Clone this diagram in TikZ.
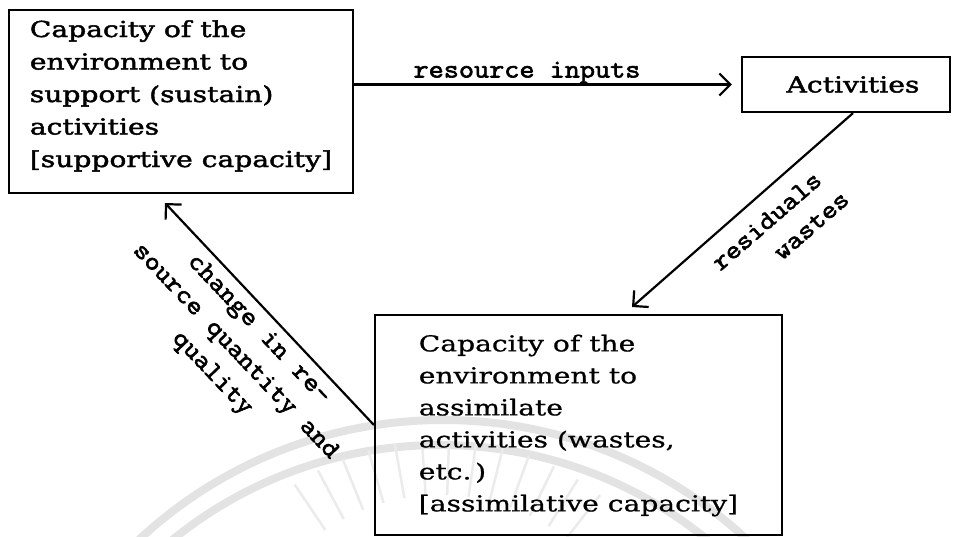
\documentclass[tikz,border=0pt]{standalone}
\usepackage{fontspec}
\setmainfont{DejaVu Serif}
\newfontfamily\boxfont[FakeStretch=1.28,FakeBold=0.8]{DejaVu Serif}
\newfontfamily\boxboldfont[FakeStretch=1.28,FakeBold=2]{DejaVu Serif}
\newfontfamily\typefont[FakeStretch=1.13,FakeBold=2.5]{Latin Modern Mono}
\usetikzlibrary{arrows.meta,calc}

% a left-aligned block of lines, lifted without changing its size
\newcommand{\liftedlines}[2]{\raisebox{#1}[\height][\depth]{\begin{tabular}{@{}l@{}}#2\end{tabular}}}

\begin{document}
\begin{tikzpicture}[x=1pt,y=-1pt,
  frame/.style={draw, line width=2.2pt, inner sep=0pt},
  flow/.style={line width=2.2pt, -{Straight Barb[length=11pt,width=22pt]}},
  tw/.style={font=\typefont\fontsize{26}{32}\selectfont, inner sep=0pt},
  wmark/.style={gray!22, line width=8pt},
  wray/.style={gray!16, line width=2.5pt}]
\useasboundingbox (0,0) rectangle (963,536);

% faint seal behind the lower box
\begin{scope}
  \clip (0,0) rectangle (963,536);
  \draw[wmark] (443,866) circle[radius=446];
  \draw[wmark] (440,870) circle[radius=425];
  \foreach \a in {-124,-118,...,-50}
    \draw[wray] ($(440,700)+(\a:205)$) -- ($(440,700)+(\a:260)$);
\end{scope}

% the three capacities / activities
\node[frame, minimum width=344pt, minimum height=183pt,
      font=\boxboldfont\fontsize{22}{32.5}\selectfont] (supp) at (181,101.5)
  {\liftedlines{6pt}{Capacity of the\\ environment to\\ support (sustain)\\ activities\\{}[supportive capacity]}};

\node[frame, minimum width=208pt, minimum height=55pt,
      font=\boxboldfont\fontsize{22}{26}\selectfont] (act) at (846,84.5)
  {\hspace{14pt}Activities};

\node[frame, minimum width=407pt, minimum height=220pt,
      font=\boxfont\fontsize{22}{32}\selectfont] (assim) at (578.5,425)
  {\liftedlines{0pt}{Capacity of the\\ environment to\\ assimilate\\ activities (wastes,\\ etc.\,)\\{}[assimilative capacity]}};

% flows between them
\draw[flow, shorten >=9pt] (supp.east |- act.west) --
  node[tw, pos=0.447, anchor=base, yshift=7pt] (resin) {resource inputs} (act.west);

\coordinate (resEnd) at (632,307);
\draw[flow] ($(act.south)+(7,0)$) -- (resEnd);
\node[tw, rotate=41] (resid) at (766.5,221) {residuals};
\node[tw, rotate=41] (wastes) at (811.5,226) {wastes};

\coordinate (chgEnd) at (165,203);
\draw[flow] (assim.west) -- (chgEnd);
\node[tw, rotate=-46.5, align=center] (chg) at (235,352)
  {change in re-\\source quantity and\\quality};
\end{tikzpicture}
\end{document}
